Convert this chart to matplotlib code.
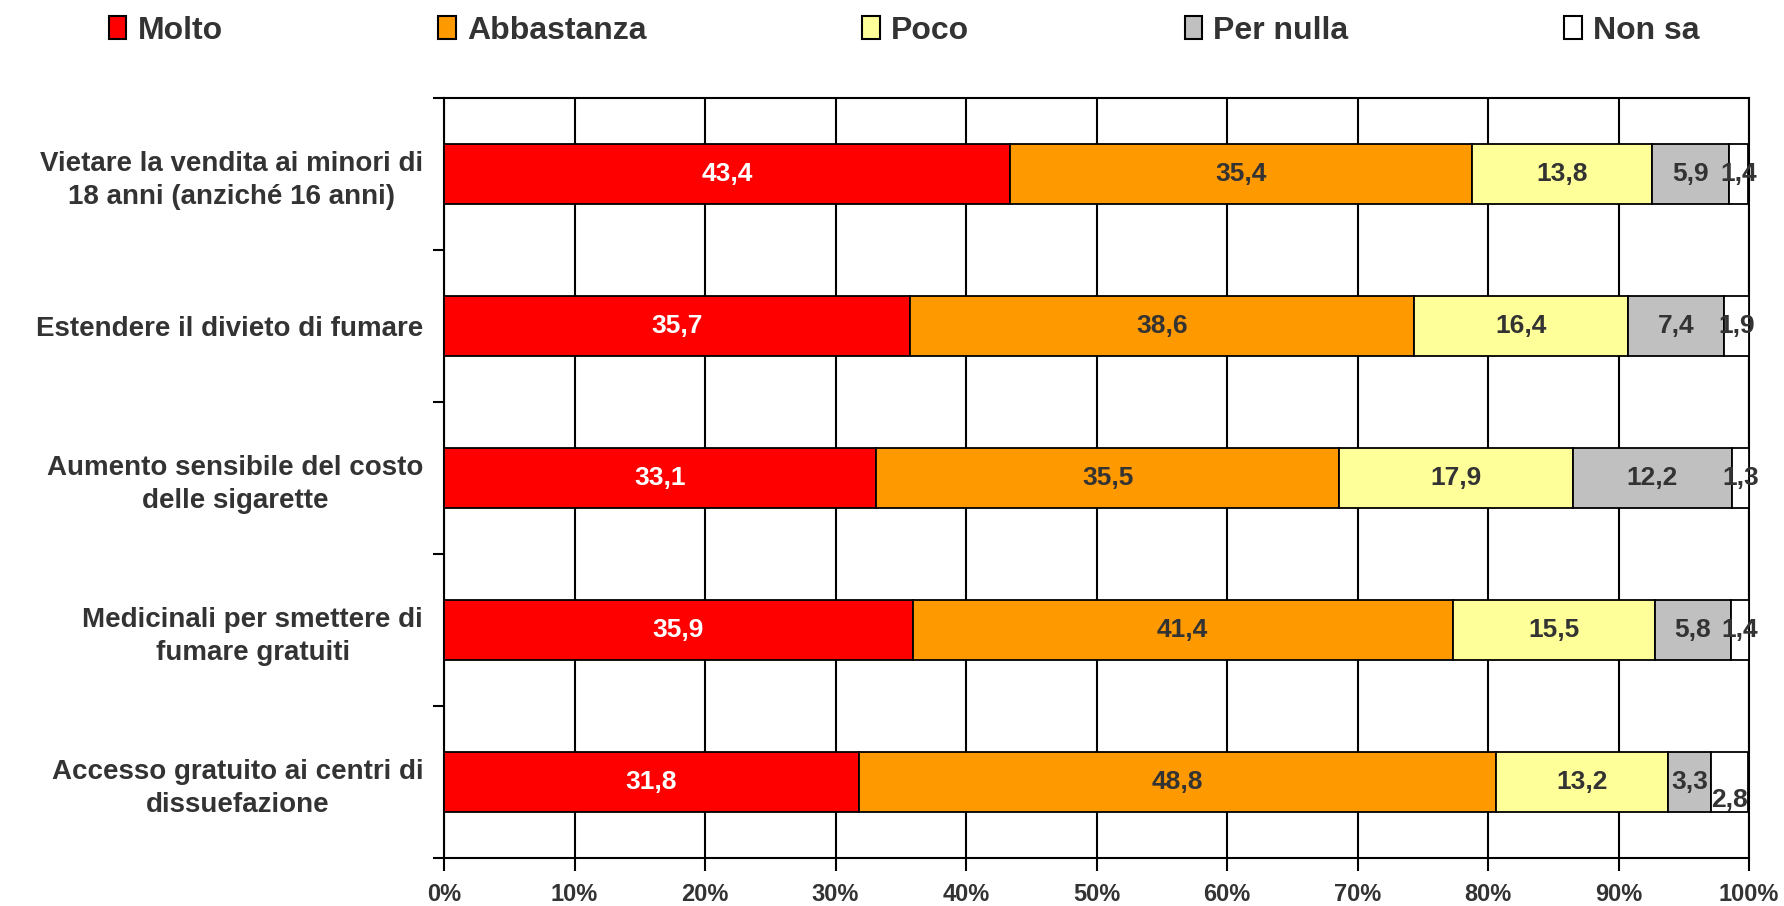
import matplotlib
matplotlib.use("Agg")
import matplotlib.pyplot as plt
from matplotlib.patches import Patch
import numpy as np

# categories top to bottom
categories = [
    "Vietare la vendita ai minori di\n18 anni (anziché 16 anni)",
    "Estendere il divieto di fumare",
    "Aumento sensibile del costo\ndelle sigarette",
    "Medicinali per smettere di\nfumare gratuiti",
    "Accesso gratuito ai centri di\ndissuefazione",
]
series_names = ["Molto", "Abbastanza", "Poco", "Per nulla", "Non sa"]
molto = [43.4, 35.7, 33.1, 35.9, 31.8]
abbastanza = [35.4, 38.6, 35.5, 41.4, 48.8]
poco = [13.8, 16.4, 17.9, 15.5, 13.2]
per_nulla = [5.9, 7.4, 12.2, 5.8, 3.3]
non_sa = [1.4, 1.9, 1.3, 1.4, 2.8]
x_ticks = [0, 10, 20, 30, 40, 50, 60, 70, 80, 90, 100]

colors = ["#FF0000", "#FF9900", "#FFFF99", "#C0C0C0", "#FFFFFF"]
label_colors = ["white", "#333333", "#333333", "#333333", "#333333"]
TXT = "#333333"
FONT = "Liberation Sans"

plt.rcParams['font.family'] = [FONT, 'DejaVu Sans']

fig = plt.figure(figsize=(17.84, 9.06), dpi=100)
ax = fig.add_axes([0.2489, 0.053, 0.7315, 0.8388])

data = [molto, abbastanza, poco, per_nulla, non_sa]
y = np.arange(len(categories))
left = np.zeros(len(categories))
for i, vals in enumerate(data):
    vals = np.array(vals)
    ax.barh(y, vals, left=left, height=0.395, color=colors[i],
            edgecolor="black", linewidth=1.3, zorder=3)
    for j, v in enumerate(vals):
        dy = 0
        # Excel pushed the last tiny label down a bit
        if i == 4 and j == 4:
            dy = -13
        ax.annotate(f"{v:.1f}".replace(".", ","), (left[j] + v / 2, y[j]),
                    xytext=(0, dy), textcoords="offset points",
                    ha="center", va="center", fontsize=19, fontweight="bold",
                    color=label_colors[i], zorder=5)
    left += vals

ax.set_xlim(0, 100)
ax.set_ylim(len(categories) - 0.5, -0.5)
ax.set_xticks(x_ticks)
ax.set_xticklabels([f"{t}%" for t in x_ticks], fontsize=17, fontweight="bold", color=TXT)
ax.xaxis.grid(True, color="black", linewidth=1.5, zorder=0)
ax.set_axisbelow(True)

ax.set_yticks(y)
ax.set_yticklabels(categories, fontsize=20, fontweight="bold", color=TXT,
                   multialignment="center", linespacing=1.35)
ax.set_yticks(np.arange(-0.5, len(categories)), minor=True)
ax.tick_params(axis="y", which="major", length=0, pad=15)
ax.tick_params(axis="y", which="minor", length=8, width=1.5, direction="out")
ax.tick_params(axis="x", length=9, width=1.5, direction="out", pad=9)

for s in ["left", "bottom", "top", "right"]:
    ax.spines[s].set_linewidth(1.5)
    ax.spines[s].set_color("black")

handles = [Patch(facecolor=c, edgecolor="black", linewidth=1.5) for c in colors]
leg = fig.legend(handles, series_names, loc="center left",
                 bbox_to_anchor=(0.061, 0.966), ncol=5, frameon=False,
                 prop={"family": FONT, "weight": "bold", "size": 23},
                 handlelength=0.55, handleheight=0.7, handletextpad=0.35,
                 columnspacing=6.75, borderpad=0, borderaxespad=0)
for t in leg.get_texts():
    t.set_color(TXT)

fig.savefig("out.png", dpi=100)
